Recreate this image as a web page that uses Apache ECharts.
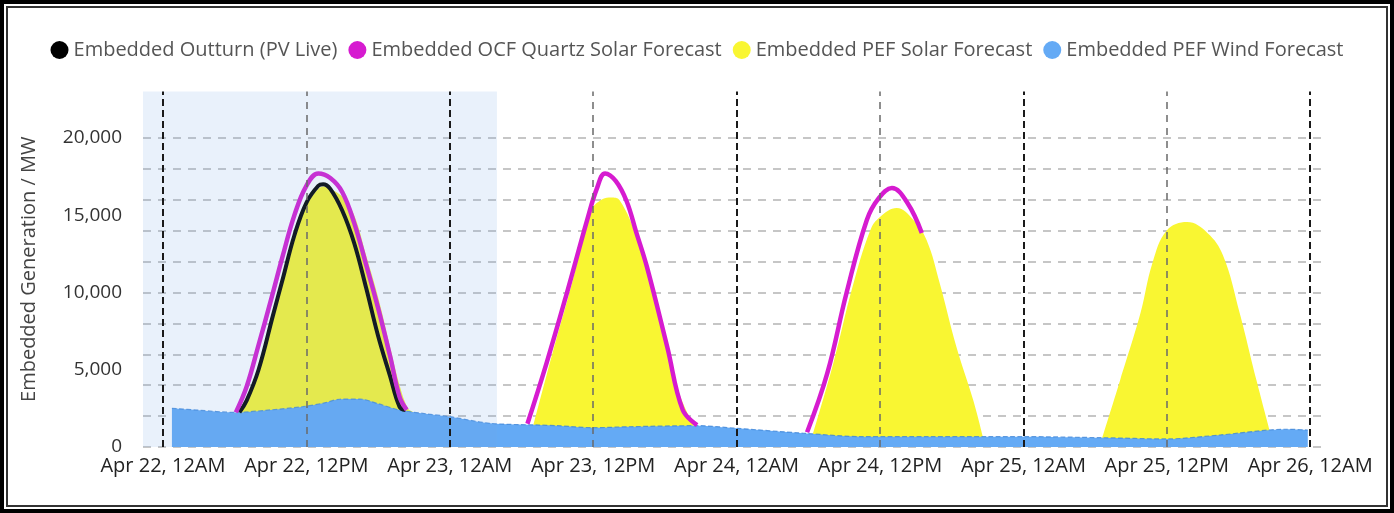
<!DOCTYPE html>
<html>
<head>
<meta charset="utf-8">
<script src="https://cdn.jsdelivr.net/npm/echarts@6/dist/echarts.min.js"></script>
<style>
  html, body { margin: 0; padding: 0; background: #fff; }
  .frame { position: absolute; left: 0; top: 0; width: 1394px; height: 513px; box-sizing: border-box; border: 4px solid #000; }
  .frame-inner { position: absolute; left: 2px; top: 2px; right: 2px; bottom: 2px; border: 2px solid #333; }
  #chart { position: absolute; left: 0; top: 0; width: 1394px; height: 513px; }
</style>
</head>
<body>
<div class="frame"><div class="frame-inner"></div></div>
<div id="chart"></div>
<script>
  // hours counted from Apr 22, 12AM
  const xTickHours = [0, 12, 24, 36, 48, 60, 72, 84, 96];
  const xTickLabels = ['Apr 22, 12AM', 'Apr 22, 12PM', 'Apr 23, 12AM', 'Apr 23, 12PM', 'Apr 24, 12AM',
    'Apr 24, 12PM', 'Apr 25, 12AM', 'Apr 25, 12PM', 'Apr 26, 12AM'];
  const yTicks = [0, 5000, 10000, 15000, 20000];
  const gridValues = [0, 2000, 4000, 6000, 8000, 10000, 12000, 14000, 16000, 18000, 20000];
  const midnightHours = [0, 24, 48, 72, 96];
  const noonHours = [12, 36, 60, 84];
  const shadedHours = [-1.67, 27.95];

  const windHours = [0.75, 3, 6, 9, 11.7, 13.5, 14.8, 16.5, 18, 19.8, 22, 24, 27.4, 31.5, 33, 36, 39, 44.7, 48,
    53.6, 58.6, 64.2, 69, 72, 78.7, 84, 88.5, 94, 95.8];
  const windMW = [2500, 2380, 2240, 2400, 2610, 2850, 3090, 3100, 2800, 2390, 2150, 1960, 1530, 1420, 1380, 1250, 1310, 1380, 1210,
    890, 670, 670, 670, 670, 600, 520, 780, 1150, 1100];

  // PEF solar, read as the top of the yellow area (sits on the wind area)
  const pefHours = [6.2, 7, 8, 9.2, 10, 11, 12, 13, 13.5, 14, 15, 16, 17, 18, 19, 19.8, 20.5, 20.9,
    25,
    31.0, 32.6, 34.3, 35.7, 36.8, 37.5, 38.2, 39.7, 41.4, 43.1, 44.4,
    50,
    54.4, 56.1, 57.7, 59.2, 60.0, 61.4, 62.8, 63.9, 65.0, 66.4, 67.8, 68.6,
    75,
    78.6, 80.1, 81.8, 82.8, 84.0, 85.7, 87.4, 88.7, 90.1, 91.5, 92.6];
  const pefMW = [2240, 2900, 4900, 8300, 10600, 13500, 15600, 16700, 16850, 16700, 16200, 15000, 12400, 9700, 6500, 4000, 2500, 2280,
    null,
    1420, 6080, 10800, 15140, 16050, 16150, 15980, 13390, 8670, 3690, 1400,
    null,
    880, 5430, 10350, 14040, 14880, 15460, 14690, 13390, 10600, 6470, 3040, 690,
    null,
    600, 4340, 8670, 11900, 14000, 14550, 13850, 12400, 8670, 4340, 1100];

  const pvLiveHours = [6.4, 7, 8, 9.2, 10, 11, 12, 13, 13.4, 14, 15, 16, 17, 18, 19, 19.8, 20.3];
  const pvLiveMW = [2250, 3000, 5000, 8500, 10800, 13700, 15800, 16900, 17000, 16700, 15300, 13200, 10300, 7200, 4600, 2600, 2400];

  const ocfHours = [6.1, 7, 8, 9, 10, 11, 12, 13, 14, 15, 16, 17, 18, 19, 19.8, 20.4,
    25,
    30.5, 32.1, 33.8, 35.5, 36.3, 37.0, 37.9, 38.8, 39.6, 40.5, 42.2, 43.5, 44.7,
    50,
    53.9, 55.6, 57.2, 58.9, 59.9, 61.0, 62.3, 63.5];
  const ocfMW = [2240, 3900, 6600, 9400, 12300, 15000, 16900, 17700, 17400, 16500, 14500, 11800, 9000, 5900, 3240, 2400,
    null,
    1500, 5430, 9960, 14690, 16700, 17700, 17200, 15900, 13900, 11650, 6470, 2390, 1420,
    null,
    950, 4790, 9960, 14690, 16100, 16750, 15790, 13850];

  function pairs(hours, values) {
    return hours.map((h, i) => [h, values[i]]);
  }

  const font = 'Open Sans';
  const chart = echarts.init(document.getElementById('chart'));

  chart.setOption({
    animation: false,
    textStyle: { fontFamily: font },
    legend: {
      top: 35,
      left: 'center',
      icon: 'circle',
      itemWidth: 18,
      itemHeight: 18,
      itemGap: 11,
      textStyle: { fontSize: 20, color: '#555', fontFamily: font },
      data: ['Embedded Outturn (PV Live)', 'Embedded OCF Quartz Solar Forecast', 'Embedded PEF Solar Forecast', 'Embedded PEF Wind Forecast'],
    },
    grid: { left: 143, right: 69, top: 91.5, bottom: 66 },
    xAxis: {
      type: 'value',
      min: -1.67,
      max: 97.24,
      axisLine: { show: false },
      axisTick: { show: false },
      splitLine: { show: false },
      axisLabel: {
        customValues: xTickHours,
        formatter: (v) => xTickLabels[xTickHours.indexOf(v)],
        fontSize: 20,
        color: '#222',
        margin: 9,
        fontFamily: font,
      },
    },
    yAxis: {
      type: 'value',
      min: 0,
      max: 23000,
      name: 'Embedded Generation / MW',
      nameLocation: 'middle',
      nameGap: 104,
      nameTextStyle: { fontSize: 20, color: '#444', fontFamily: font },
      axisLine: { show: false },
      axisTick: { show: false },
      splitLine: { show: false },
      axisLabel: {
        customValues: yTicks,
        formatter: (v) => v.toLocaleString('en-US'),
        fontSize: 19,
        color: '#333',
        margin: 21,
        fontFamily: font,
      },
    },
    series: [
      {
        name: 'Embedded PEF Solar Forecast',
        type: 'line',
        color: '#f9f632',
        data: pairs(pefHours, pefMW),
        smooth: 0.4,
        showSymbol: false,
        connectNulls: false,
        lineStyle: { width: 0 },
        areaStyle: { color: '#f9f632', opacity: 1 },
        markLine: {
          silent: true,
          z: 1,
          symbol: 'none',
          label: { show: false },
          lineStyle: { color: '#b4b4b4', width: 1.5, type: [8, 7] },
          data: gridValues.map((v) => ({ yAxis: v })),
        },
      },
      {
        name: 'Embedded PEF Wind Forecast',
        type: 'line',
        color: '#64aaf5',
        data: pairs(windHours, windMW),
        smooth: 0.3,
        showSymbol: false,
        lineStyle: { width: 1.2, color: '#3f86d8', type: 'dashed', opacity: 0.8 },
        areaStyle: { color: '#64aaf5', opacity: 1 },
        markLine: {
          silent: true,
          z: 8,
          symbol: 'none',
          label: { show: false },
          data: midnightHours.map((h) => ({ xAxis: h, lineStyle: { color: '#1a1a1a', width: 2, type: [7, 4] } }))
            .concat(noonHours.map((h) => ({ xAxis: h, lineStyle: { color: '#6a6a6a', width: 1.5, type: [7, 6] } }))),
        },
      },
      {
        name: 'Embedded Outturn (PV Live)',
        type: 'line',
        color: '#000',
        data: pairs(pvLiveHours, pvLiveMW),
        smooth: 0.4,
        showSymbol: false,
        lineStyle: { width: 4, color: '#000' },
        markArea: {
          silent: true,
          z: 6,
          itemStyle: { color: 'rgba(120, 170, 230, 0.16)' },
          data: [[{ xAxis: shadedHours[0] }, { xAxis: shadedHours[1] }]],
        },
      },
      {
        name: 'Embedded OCF Quartz Solar Forecast',
        type: 'line',
        color: '#d61bd0',
        data: pairs(ocfHours, ocfMW),
        smooth: 0.4,
        showSymbol: false,
        connectNulls: false,
        lineStyle: { width: 4.5, color: '#d61bd0' },
      },
    ],
  });
</script>
</body>
</html>
